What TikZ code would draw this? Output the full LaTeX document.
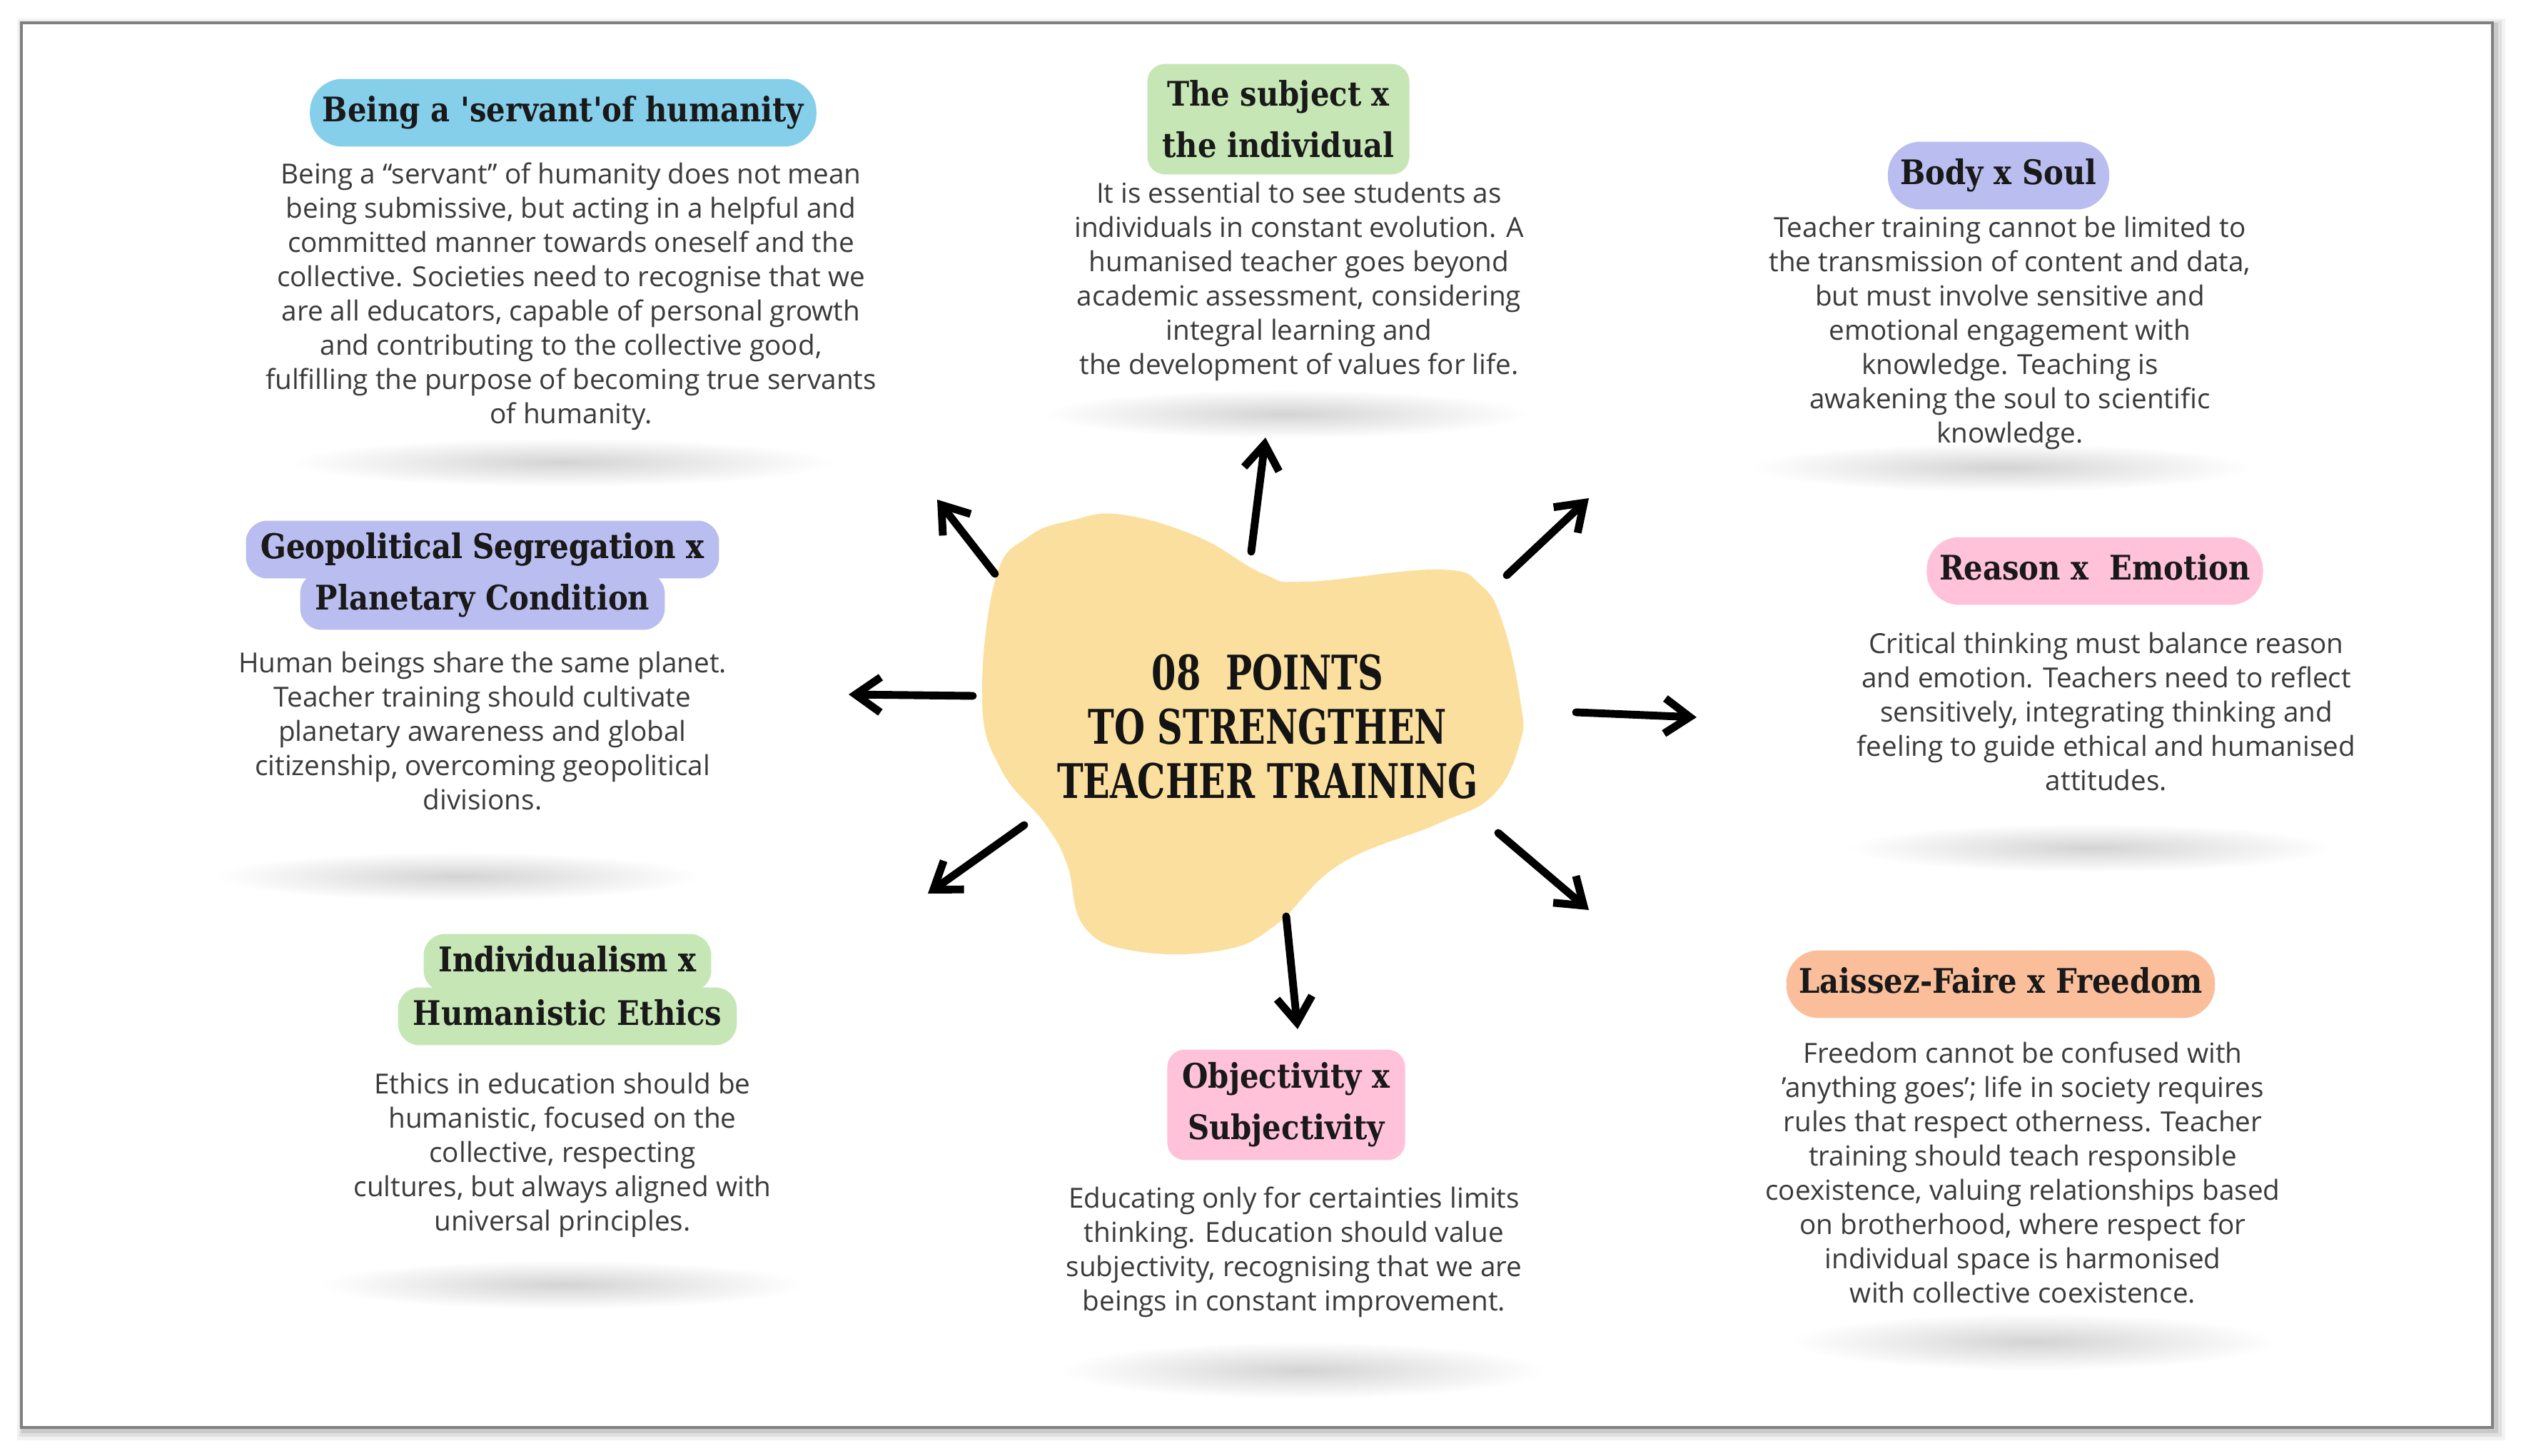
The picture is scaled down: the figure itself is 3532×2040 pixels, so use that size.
\documentclass[tikz,border=0pt]{standalone}
\usepackage{fontspec}
\setmainfont{Open Sans}
\newfontfamily\headfont{DejaVu Serif}[FakeStretch=0.88]
\newfontfamily\titlefont{DejaVu Serif}[FakeStretch=0.74]
\usepackage{tikz}
\usetikzlibrary{arrows.meta}
\definecolor{skyblue}{HTML}{86CFEA}
\definecolor{mint}{HTML}{C6E6B5}
\definecolor{lavender}{HTML}{B9BDEF}
\definecolor{blush}{HTML}{FFC2D8}
\definecolor{peach}{HTML}{FBBE9B}
\definecolor{sand}{HTML}{FBDF9E}
\definecolor{ink}{HTML}{3A3A3A}
\begin{document}
\begin{tikzpicture}[x=0.01cm,y=-0.01cm,
  headtxt/.style={text=black!90, text height=9.8pt, text depth=2.9pt, font=\headfont\bfseries\fontsize{13.5}{20.5}\selectfont},
  pill/.style={headtxt, fill=#1, rounded corners=13pt, minimum height=27pt, inner xsep=5pt, inner ysep=0pt},
  lineband/.style={pill=#1, rounded corners=8.5pt, minimum height=23pt, inner xsep=6pt},
  card/.style={fill=#1, rounded corners=7pt, minimum height=44pt, inner xsep=6pt, inner ysep=2pt,
    align=center, text=black!90, font=\headfont\bfseries\fontsize{13.5}{20.5}\selectfont},
  bodytxt/.style={align=center, inner sep=0pt, anchor=north, text=ink, font=\fontsize{11}{13.66}\selectfont},
  ray/.style={line width=3.1pt, line cap=round, line join=round, -{Straight Barb[length=10pt,width=14pt]}},
  cardshadow/.style={inner color=black!17, outer color=white}]
  \useasboundingbox (0,0) rectangle (3532,2040);
  \fill[white] (0,0) rectangle (3532,2040);

  \draw[black, opacity=0.05, line width=7pt] (36,38) rectangle (3498,2006);
  \draw[black, opacity=0.07, line width=4.5pt] (35,37) rectangle (3497,2005);
  \draw[black, opacity=0.10, line width=2.4pt] (34,36) rectangle (3496,2004);
  \fill[white] (30,32) rectangle (3492,2000);
  \draw[black!50, line width=1.2pt] (30,32) rectangle (3492,2000);

  \shade[cardshadow] (788,648) ellipse (380 and 34);
  \shade[cardshadow] (1802,580) ellipse (340 and 34);
  \shade[cardshadow] (2804,655) ellipse (350 and 34);
  \shade[cardshadow] (2928,1188) ellipse (340 and 34);
  \shade[cardshadow] (2850,1880) ellipse (340 and 40);
  \shade[cardshadow] (1825,1920) ellipse (340 and 40);
  \shade[cardshadow] (788,1800) ellipse (340 and 34);
  \shade[cardshadow] (642,1228) ellipse (340 and 34);

  \fill[sand] plot[smooth cycle, tension=0.7] coordinates {(1376,982) (1395,810) (1441,752) (1502,729)
    (1571,721) (1678,752) (1770,804) (1831,815) (2015,798) (2076,821) (2107,878) (2130,982) (2130,1039)
    (2092,1114) (2015,1154) (1877,1211) (1786,1297) (1709,1332) (1587,1332) (1518,1297) (1495,1211)
    (1464,1154) (1403,1079)};
  \node[align=center, text=black!92, font=\titlefont\bfseries\fontsize{19}{21.6}\selectfont] (title) at (1776,1018)
    {08\ \ POINTS\\TO STRENGTHEN\\TEACHER TRAINING};

  \node[pill=skyblue] (h1) at (789,158) {Being a 'servant'of humanity};
  \node[card=mint] (h2) at (1791,167) {The subject x\\the individual};
  \node[pill=lavender] (h3) at (2800,246) {Body x Soul};
  \node[pill=blush] (h4) at (2935,800) {Reason x\ \ Emotion};
  \node[pill=peach] (h5) at (2803,1379) {Laissez-Faire x Freedom};
  \node[card=blush] (h6) at (1802,1548) {Objectivity x\\Subjectivity};
  \node[lineband=mint] (h7a) at (795,1349) {Individualism x};
  \node[lineband=mint] (h7b) at (795,1424) {Humanistic Ethics};
  \node[lineband=lavender] (h8a) at (676,770) {Geopolitical Segregation x};
  \node[lineband=lavender] (h8b) at (676,842) {Planetary Condition};
  \node[headtxt] at (h7a) {Individualism x};
  \node[headtxt] at (h8a) {Geopolitical Segregation x};

  \node[bodytxt] (t1) at (800,227) {Being a “servant” of humanity does not mean\\being submissive, but acting in a helpful and\\committed manner towards oneself and the\\collective. Societies need to recognise that we\\are all educators, capable of personal growth\\and contributing to the collective good,\\fulfilling the purpose of becoming true servants\\of humanity.};
  \node[bodytxt] (t2) at (1820,254) {It is essential to see students as\\individuals in constant evolution. A\\humanised teacher goes beyond\\academic assessment, considering\\integral learning and\\the development of values for life.};
  \node[bodytxt] (t3) at (2816,302) {Teacher training cannot be limited to\\the transmission of content and data,\\but must involve sensitive and\\emotional engagement with\\knowledge. Teaching is\\awakening the soul to scientific\\knowledge.};
  \node[bodytxt] (t4) at (2951,885) {Critical thinking must balance reason\\and emotion. Teachers need to reflect\\sensitively, integrating thinking and\\feeling to guide ethical and humanised\\attitudes.};
  \node[bodytxt] (t5) at (2834,1459) {Freedom cannot be confused with\\'anything goes'; life in society requires\\rules that respect otherness. Teacher\\training should teach responsible\\coexistence, valuing relationships based\\on brotherhood, where respect for\\individual space is harmonised\\with collective coexistence.};
  \node[bodytxt] (t6) at (1813,1662) {Educating only for certainties limits\\thinking. Education should value\\subjectivity, recognising that we are\\beings in constant improvement.};
  \node[bodytxt] (t7) at (788,1502) {Ethics in education should be\\humanistic, focused on the\\collective, respecting\\cultures, but always aligned with\\universal principles.};
  \node[bodytxt] (t8) at (676,912) {Human beings share the same planet.\\Teacher training should cultivate\\planetary awareness and global\\citizenship, overcoming geopolitical\\divisions.};

  \coordinate (upS) at (1753,773);   \coordinate (upE) at (1773,613);
  \coordinate (ulS) at (1394,804);   \coordinate (ulE) at (1313,700);
  \coordinate (urS) at (2111,806);   \coordinate (urE) at (2226,698);
  \coordinate (lfS) at (1363,975);   \coordinate (lfE) at (1189,973);
  \coordinate (rtS) at (2208,998);   \coordinate (rtE) at (2377,1005);
  \coordinate (dlS) at (1435,1156);  \coordinate (dlE) at (1300,1252);
  \coordinate (drS) at (2099,1167);  \coordinate (drE) at (2226,1275);
  \coordinate (dnS) at (1802,1284);  \coordinate (dnE) at (1818,1442);

  \draw[ray] (upS) -- (upE);
  \draw[ray] (ulS) -- (ulE);
  \draw[ray] (urS) -- (urE);
  \draw[ray] (lfS) -- (lfE);
  \draw[ray] (rtS) -- (rtE);
  \draw[ray] (dlS) -- (dlE);
  \draw[ray] (drS) -- (drE);
  \draw[ray] (dnS) -- (dnE);
\end{tikzpicture}
\end{document}
